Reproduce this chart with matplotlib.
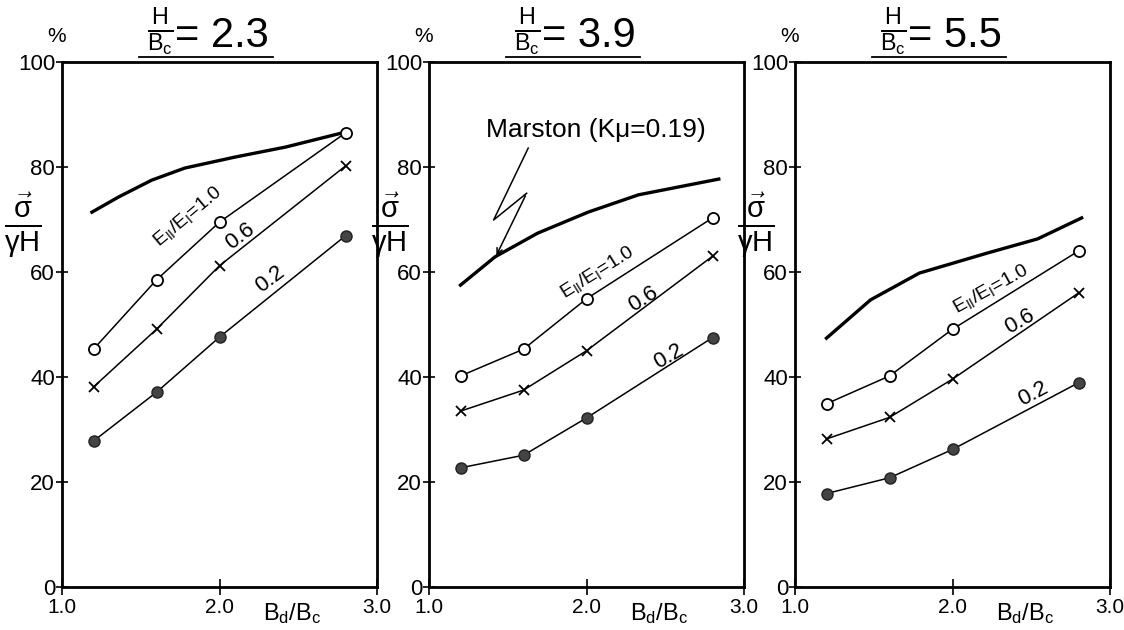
import matplotlib
matplotlib.use('Agg')
import matplotlib.pyplot as plt

plt.rcParams['font.family'] = ['Liberation Sans', 'DejaVu Sans']
plt.rcParams['mathtext.fontset'] = 'custom'
plt.rcParams['mathtext.rm'] = 'Liberation Sans'
plt.rcParams['mathtext.it'] = 'Liberation Sans'

# data
bd_bc = [1.2, 1.6, 2.0, 2.8]
ratios = ['2.3', '3.9', '5.5']

e10 = [[45.3, 58.5, 69.5, 86.5],
       [40.2, 45.3, 54.9, 70.3],
       [34.9, 40.2, 49.1, 64.0]]
e06 = [[38.1, 49.1, 61.2, 80.2],
       [33.5, 37.5, 45.0, 63.0],
       [28.2, 32.3, 39.6, 56.0]]
e02 = [[27.8, 37.1, 47.6, 66.9],
       [22.7, 25.1, 32.2, 47.5],
       [17.8, 20.8, 26.2, 38.9]]

marston_x = [[1.19, 1.36, 1.57, 1.78, 2.10, 2.42, 2.78],
             [1.2, 1.42, 1.69, 2.01, 2.33, 2.84],
             [1.2, 1.48, 1.79, 2.22, 2.54, 2.82]]
marston_y = [[71.4, 74.3, 77.5, 79.8, 81.9, 83.8, 86.5],
             [57.5, 62.9, 67.4, 71.4, 74.7, 77.7],
             [47.4, 54.7, 59.8, 63.6, 66.3, 70.3]]

# label positions (x, y, rotation) for 1.0 / 0.6 / 0.2
lab10 = [(1.80, 70.5, 40), (2.07, 60.0, 32), (2.24, 56.8, 29)]
lab06 = [(2.13, 66.8, 37), (2.36, 54.8, 32), (2.43, 50.5, 30)]
lab02 = [(2.32, 58.6, 37), (2.52, 43.9, 30), (2.51, 36.8, 28)]

lefts = [62, 429, 795]
W, H = 1124, 630

fig = plt.figure(figsize=(11.24, 6.30), dpi=100)

for i in range(3):
    ax = fig.add_axes([lefts[i] / W, 43 / H, 315 / W, 525 / H])
    ax.set_xlim(1.0, 3.0)
    ax.set_ylim(0, 100)
    for s in ax.spines.values():
        s.set_linewidth(2)

    ax.plot(marston_x[i], marston_y[i], 'k-', lw=2.4)
    ax.plot(bd_bc, e10[i], 'k-', lw=1.1, marker='o', mfc='white', mec='k', ms=8, mew=1.3)
    ax.plot(bd_bc, e06[i], 'k-', lw=1.1, marker='x', mec='k', ms=7, mew=1.3)
    ax.plot(bd_bc, e02[i], 'k-', lw=1.1, marker='o', mfc='#444444', mec='#222222', ms=8)

    x, y, r = lab10[i]
    ax.text(x, y, r'$\mathrm{E_{II}/E_{I}}$=1.0', rotation=r, fontsize=14, ha='center',
            va='center', rotation_mode='anchor')
    x, y, r = lab06[i]
    ax.text(x, y, '0.6', rotation=r, fontsize=16, ha='center', va='center', rotation_mode='anchor')
    x, y, r = lab02[i]
    ax.text(x, y, '0.2', rotation=r, fontsize=16, ha='center', va='center', rotation_mode='anchor')

    ax.set_yticks([0, 20, 40, 60, 80, 100])
    ax.set_yticklabels(['0', '20', '40', '60', '80', '100'])
    ax.set_xticks([1.0, 2.0, 3.0])
    ax.set_xticklabels(['1.0', '2.0', '3.0'])
    ax.tick_params(axis='y', direction='inout', length=8, width=1.2, labelsize=16, pad=1)
    ax.tick_params(axis='x', direction='inout', length=12, width=1.2, labelsize=15, pad=2)

    # y label, percent sign, x label
    ax.text(-0.125, 0.69, r'$\frac{\vec{\sigma}}{\gamma\mathrm{H}}$', transform=ax.transAxes,
            fontsize=30, ha='center', va='center')
    ax.text(-0.016, 1.048, '%', transform=ax.transAxes, fontsize=15, ha='center', va='center')
    ax.text(0.73, -0.05, r'$\mathrm{B_d/B_c}$', transform=ax.transAxes, fontsize=17,
            ha='center', va='center')

    # title: H/Bc = value, underlined
    ax.text(0.355, 1.058, r'$\frac{\mathrm{H}}{\mathrm{B_c}}$', transform=ax.transAxes,
            fontsize=24, ha='right', va='center')
    ax.text(0.36, 1.05, '= ' + ratios[i], transform=ax.transAxes, fontsize=30,
            ha='left', va='center')
    ax.plot([0.245, 0.67], [1.01, 1.01], 'k-', lw=1.3, transform=ax.transAxes, clip_on=False)

    if i == 1:
        ax.text(2.06, 87.0, 'Marston (K\u03bc=0.19)', fontsize=19, ha='center', va='center')
        zz_x = [1.63, 1.41, 1.62]
        zz_y = [83.6, 69.9, 75.0]
        ax.plot(zz_x, zz_y, 'k-', lw=1.1)
        ax.annotate('', xy=(1.42, 62.7), xytext=(zz_x[-1], zz_y[-1]),
                    arrowprops=dict(arrowstyle='->', lw=1.1, color='k'))

fig.savefig('out.png', dpi=100)
